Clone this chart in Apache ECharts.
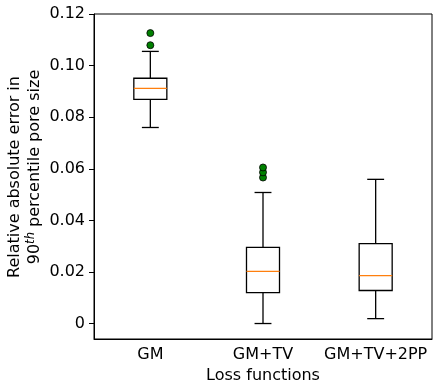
<!DOCTYPE html>
<html>
<head>
<meta charset="utf-8">
<script src="https://cdn.jsdelivr.net/npm/echarts@6/dist/echarts.min.js"></script>
<style>html,body{margin:0;padding:0;background:#fff}#c{width:435px;height:387px}</style>
</head>
<body>
<div id="c"></div>
<script>
const categories = ['GM', 'GM+TV', 'GM+TV+2PP'];
const whiskerLow  = [0.0760, 0.0000, 0.0019];
const q1          = [0.0869, 0.0120, 0.0128];
const median      = [0.0912, 0.0202, 0.0186];
const q3          = [0.0951, 0.0295, 0.0310];
const whiskerHigh = [0.1055, 0.0508, 0.0559];
const outliersGM   = [0.1079, 0.1126];
const outliersGMTV = [0.0566, 0.0586, 0.0605];
const yTicks = [0, 0.02, 0.04, 0.06, 0.08, 0.10, 0.12];

const FONT = 'DejaVu Sans';
const boxData = categories.map((c, i) => [i, whiskerLow[i], q1[i], median[i], q3[i], whiskerHigh[i]]);
const outlierData = outliersGM.map(v => [0, v]).concat(outliersGMTV.map(v => [1, v]));

const chart = echarts.init(document.getElementById('c'), null, {renderer: 'canvas'});
chart.setOption({
  animation: false,
  backgroundColor: '#fff',
  grid: {left: 94, right: 3, top: 14, bottom: 48, show: true, borderColor: '#000', borderWidth: 1,
    backgroundColor: 'transparent', containLabel: false, outerBoundsMode: 'none'},
  graphic: [
    {type: 'text', x: 14.5, y: 177, rotation: Math.PI / 2,
      style: {text: 'Relative absolute error in', fill: '#000', font: '16px "DejaVu Sans"', align: 'center', verticalAlign: 'middle'}},
    {type: 'text', x: 35, y: 167, rotation: Math.PI / 2,
      style: {text: '{a|90}{s|th}{a| percentile pore size}', fill: '#000', font: '16px "DejaVu Sans"', align: 'center', verticalAlign: 'middle',
        rich: {
          a: {fontFamily: FONT, fontSize: 16, fill: '#000', lineHeight: 20},
          s: {fontFamily: FONT, fontSize: 11.5, fontStyle: 'italic', fill: '#000', lineHeight: 20, verticalAlign: 'top', padding: [0, 0, 6, 0]}
        }}}
  ],
  xAxis: {
    type: 'category',
    data: categories,
    boundaryGap: true,
    axisLine: {onZero: false, lineStyle: {color: '#000', width: 1}},
    axisTick: {alignWithLabel: true, length: 5, lineStyle: {color: '#000'}},
    axisLabel: {color: '#000', fontFamily: FONT, fontSize: 16, margin: 8, interval: 0, hideOverlap: false},
    splitLine: {show: false},
    name: 'Loss functions',
    nameLocation: 'middle',
    nameGap: 26,
    nameTextStyle: {color: '#000', fontFamily: FONT, fontSize: 16}
  },
  yAxis: {
    type: 'value',
    min: -0.006,
    max: 0.12,
    axisLine: {show: true, onZero: false, lineStyle: {color: '#000', width: 1}},
    axisTick: {show: true, length: 5, lineStyle: {color: '#000'}, customValues: yTicks},
    axisLabel: {color: '#000', fontFamily: FONT, fontSize: 16, margin: 9, customValues: yTicks,
      formatter: v => (Math.abs(v) < 1e-9 ? '0' : v.toFixed(2))},
    splitLine: {show: false}
  },
  series: [
    {
      type: 'custom',
      data: boxData,
      encode: {x: 0, y: [1, 2, 3, 4, 5]},
      z: 2,
      renderItem: function (params, api) {
        const x = api.value(0);
        const band = api.size([1, 0])[0];
        const bw = band * 0.293;
        const cw = band * 0.15;
        const pLow = api.coord([x, api.value(1)]);
        const pQ1 = api.coord([x, api.value(2)]);
        const pMed = api.coord([x, api.value(3)]);
        const pQ3 = api.coord([x, api.value(4)]);
        const pHigh = api.coord([x, api.value(5)]);
        const cx = pQ1[0];
        const ls = {stroke: '#000', lineWidth: 1.3, fill: null};
        return {
          type: 'group',
          children: [
            {type: 'line', shape: {x1: cx, y1: pQ1[1], x2: cx, y2: pLow[1]}, style: ls},
            {type: 'line', shape: {x1: cx, y1: pQ3[1], x2: cx, y2: pHigh[1]}, style: ls},
            {type: 'line', shape: {x1: cx - cw / 2, y1: pLow[1], x2: cx + cw / 2, y2: pLow[1]}, style: ls},
            {type: 'line', shape: {x1: cx - cw / 2, y1: pHigh[1], x2: cx + cw / 2, y2: pHigh[1]}, style: ls},
            {type: 'rect', shape: {x: cx - bw / 2, y: pQ3[1], width: bw, height: pQ1[1] - pQ3[1]}, style: {stroke: '#000', lineWidth: 1.3, fill: '#fff'}},
            {type: 'line', shape: {x1: cx - bw / 2, y1: pMed[1], x2: cx + bw / 2, y2: pMed[1]}, style: {stroke: '#ff7f0e', lineWidth: 1.3}}
          ]
        };
      }
    },
    {
      type: 'scatter',
      data: outlierData,
      symbol: 'circle',
      symbolSize: 7,
      z: 3,
      itemStyle: {color: '#008000', borderColor: '#000', borderWidth: 0.8, opacity: 1}
    }
  ]
});
</script>
</body>
</html>
